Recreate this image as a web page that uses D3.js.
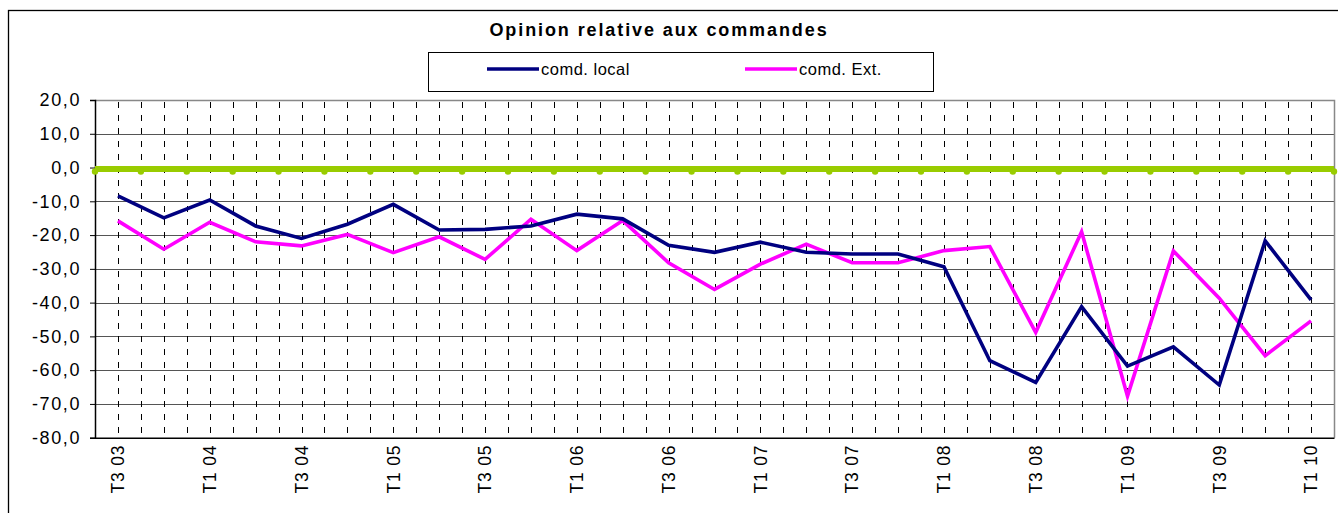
<!DOCTYPE html>
<html>
<head>
<meta charset="utf-8">
<script src="https://cdn.jsdelivr.net/npm/d3@7"></script>
<style>
  body { margin: 0; background: #fff; }
  text { font-family: Arial, "Liberation Sans", sans-serif; }
</style>
</head>
<body>
<svg id="chart"></svg>
<script>
// Quarters T3 03 .. T1 10
const categories = [
  'T3 03', 'T4 03', 'T1 04', 'T2 04', 'T3 04', 'T4 04', 'T1 05', 'T2 05', 'T3 05', 'T4 05',
  'T1 06', 'T2 06', 'T3 06', 'T4 06', 'T1 07', 'T2 07', 'T3 07', 'T4 07', 'T1 08', 'T2 08',
  'T3 08', 'T4 08', 'T1 09', 'T2 09', 'T3 09', 'T4 09', 'T1 10'
];
const comdLocal = [
  -8.4, -14.9, -9.6, -17.3, -21.0, -16.8, -10.9, -18.5, -18.3, -17.3,
  -13.8, -15.2, -23.0, -25.1, -22.1, -25.1, -25.6, -25.6, -29.4, -57.2,
  -63.6, -41.2, -58.8, -53.1, -64.4, -21.7, -39.2
];
const comdExt = [
  -15.8, -24.2, -16.2, -22.0, -23.2, -19.8, -25.2, -20.5, -27.2, -15.3,
  -24.6, -15.7, -28.2, -36.1, -28.6, -22.7, -28.2, -28.2, -24.6, -23.4,
  -48.8, -19.0, -67.7, -24.7, -38.7, -55.7, -45.4
];
const yTicks = [20, 10, 0, -10, -20, -30, -40, -50, -60, -70, -80];
const title = 'Opinion relative aux commandes';
const legendLabels = ['comd. local', 'comd. Ext.'];

const W = 1338, H = 513;
const plot = { left: 95, right: 1334, top: 100, bottom: 437.7 };
const font = 'Arial, "Liberation Sans", sans-serif';

const svg = d3.select('#chart').attr('width', W).attr('height', H);

// outer frame
svg.append('rect')
  .attr('x', 8.5).attr('y', 10.5)
  .attr('width', W).attr('height', H)
  .attr('fill', '#fff').attr('stroke', '#000').attr('stroke-width', 1.3);

const x = d3.scaleBand().domain(categories).range([plot.left, plot.right]);
const xc = d => x(d) + x.bandwidth() / 2;
const y = d3.scaleLinear().domain([-80, 20]).range([plot.bottom, plot.top]);

// horizontal gridlines
svg.append('g').selectAll('line')
  .data(yTicks)
  .join('line')
  .attr('x1', plot.left).attr('x2', plot.right)
  .attr('y1', d => Math.round(y(d)) + 0.5).attr('y2', d => Math.round(y(d)) + 0.5)
  .attr('stroke', '#555').attr('stroke-width', 1);

// vertical dashed gridlines (category centres and boundaries)
const vLines = [];
categories.forEach((c, i) => {
  vLines.push(xc(c));
  if (i < categories.length - 1) vLines.push(x(c) + x.bandwidth());
});
svg.append('g').selectAll('line')
  .data(vLines)
  .join('line')
  .attr('x1', d => Math.round(d) + 0.5).attr('x2', d => Math.round(d) + 0.5)
  .attr('y1', plot.top + 2).attr('y2', plot.bottom)
  .attr('stroke', '#000').attr('stroke-width', 1)
  .attr('stroke-dasharray', '6,7');

// plot area border (top/right gray)
svg.append('path')
  .attr('d', `M${plot.left},${plot.top + 0.5}H${plot.right + 0.5}V${plot.bottom}`)
  .attr('fill', 'none').attr('stroke', '#888').attr('stroke-width', 1.5);

// y axis
const yAxis = svg.append('g')
  .attr('transform', `translate(${plot.left},0)`)
  .call(d3.axisLeft(y).tickValues(yTicks).tickSize(5).tickPadding(9)
    .tickFormat(d => d3.format('.1f')(d).replace('.', ',').replace('−', '-')));
yAxis.select('.domain').attr('stroke', '#000').attr('stroke-width', 1.5);
yAxis.selectAll('.tick line').attr('stroke', '#000');
yAxis.selectAll('.tick text')
  .attr('font-size', 18).attr('fill', '#000')
  .attr('letter-spacing', 1.6)
  .attr('font-family', font);

// x axis
const xAxis = svg.append('g')
  .attr('transform', `translate(0,${plot.bottom})`)
  .call(d3.axisBottom(x).tickSize(0)
    .tickValues(categories.filter((d, i) => i % 2 === 0)));
xAxis.select('.domain').attr('stroke', '#000').attr('stroke-width', 1.5);
xAxis.selectAll('.tick text')
  .attr('font-size', 17.5).attr('fill', '#000')
  .attr('letter-spacing', 0.8)
  .attr('font-family', font)
  .attr('transform', 'rotate(-90)')
  .attr('text-anchor', 'end')
  .attr('x', -7).attr('y', 0).attr('dy', '0.36em');

// zero reference line with markers at category boundaries
const zeroPts = [plot.left, ...categories.map(c => x(c) + x.bandwidth())];
svg.append('line')
  .attr('x1', plot.left).attr('x2', plot.right)
  .attr('y1', y(0) + 1.5).attr('y2', y(0) + 1.5)
  .attr('stroke', '#99CC00').attr('stroke-width', 6);
svg.append('g').selectAll('circle')
  .data(zeroPts)
  .join('circle')
  .attr('cx', d => d).attr('cy', y(0) + 4)
  .attr('r', 3.2).attr('fill', '#99CC00');

// series lines
const line = d3.line().x((d, i) => xc(categories[i])).y(d => y(d));
svg.append('path').datum(comdExt)
  .attr('d', line).attr('fill', 'none')
  .attr('stroke', '#FF00FF').attr('stroke-width', 3.6).attr('stroke-linejoin', 'miter');
svg.append('path').datum(comdLocal)
  .attr('d', line).attr('fill', 'none')
  .attr('stroke', '#000080').attr('stroke-width', 3.6).attr('stroke-linejoin', 'miter');

// title
svg.append('text')
  .attr('x', 659).attr('y', 36)
  .attr('text-anchor', 'middle')
  .attr('font-size', 18).attr('font-weight', 'bold')
  .attr('letter-spacing', 1.9)
  .text(title);

// legend
svg.append('rect')
  .attr('x', 428.5).attr('y', 52.5).attr('width', 505).attr('height', 39)
  .attr('fill', '#fff').attr('stroke', '#000').attr('stroke-width', 1);
const legendItems = [
  { label: legendLabels[0], color: '#000080', x: 487 },
  { label: legendLabels[1], color: '#FF00FF', x: 745 }
];
const lg = svg.append('g').selectAll('g').data(legendItems).join('g');
lg.append('line')
  .attr('x1', d => d.x).attr('x2', d => d.x + 52)
  .attr('y1', 69).attr('y2', 69)
  .attr('stroke', d => d.color).attr('stroke-width', 3.5);
lg.append('text')
  .attr('x', d => d.x + 54).attr('y', 75)
  .attr('font-size', 16.5)
  .attr('letter-spacing', 0.5)
  .text(d => d.label);
</script>
</body>
</html>
